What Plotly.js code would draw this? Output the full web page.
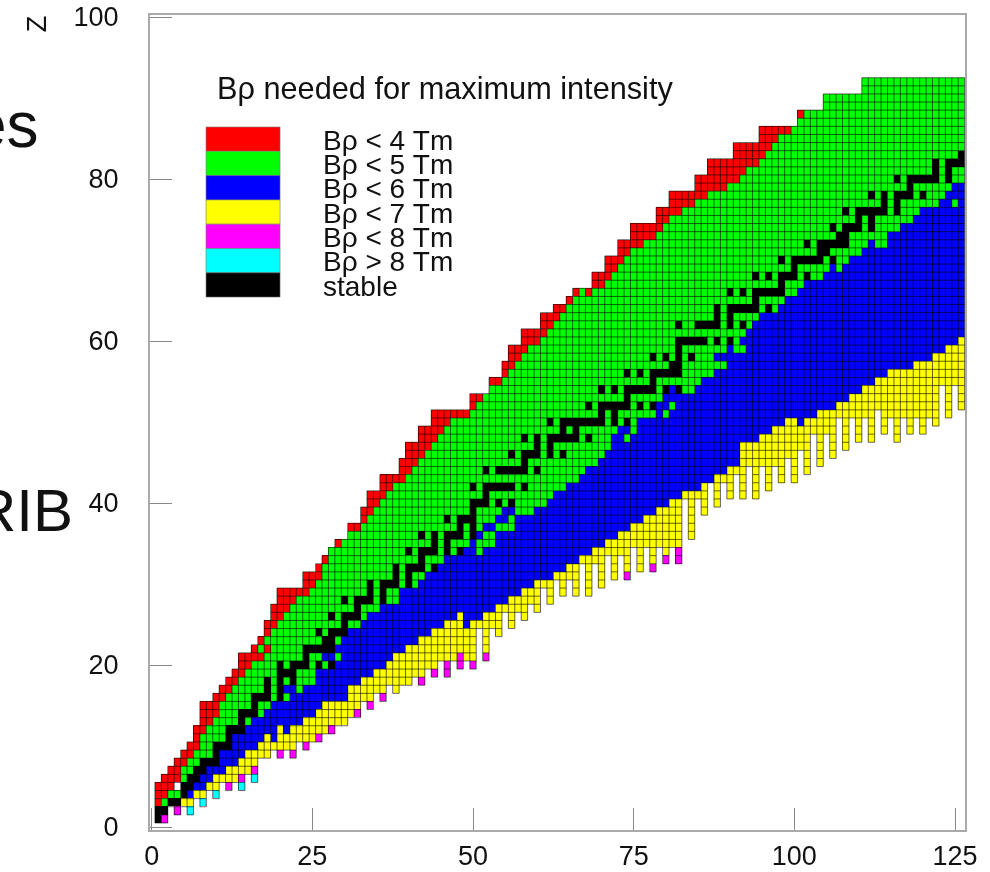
<!DOCTYPE html>
<html><head><meta charset="utf-8">
<script src="https://cdn.plot.ly/plotly-3.0.1.min.js"></script>
<style>html,body{margin:0;padding:0;background:#fff;overflow:hidden}#c{width:990px;height:872px;filter:blur(0.45px)}</style>
</head><body><div id="c"></div>
<script>
// Rows are proton numbers Z = 1..92; each value is a neutron number N.
const leftN = [1,1,1,1,1,2,3,4,5,6, 7,7,8,8,8,10,11,12,13,14, 14,16,17,18,18,19,19,20,20,24,
  24,26,27,28,29,31,31,33,33,34, 34,36,36,39,39,40,40,42,42,44, 44,50,50,53,53,55,55,56,56,58,
  58,61,61,63,65,66,69,69,71,71, 73,73,75,75,79,79,81,81,85,85, 87,87,91,91,95,95,101,101,105,105, 111,111];
const greenFrom = [1,1,2,3,4,5,5,6,7,8, 8,9,10,11,11,12,13,14,15,16, 18,17,18,19,20,21,22,23,25,26,
  27,27,28,28,30,31,33,34,35,36, 37,38,40,41,42,43,44,45,46,47, 50,51,52,53,55,56,57,58,59,61,
  62,63,64,65,66,67,71,72,73,74, 75,77,79,80,81,83,85,87,90,92, 93,95,96,97,98,100,101,102,105,105, 111,111];
const blueFrom = [127,127,127,6,7,8,9,11,11,13, 13,15,16,18,19,22,24,26,26,29, 30,29,30,31,33,34,36,39,39,42,
  43,45,46,52,54,54,57,57,60,62, 63,65,67,68,70,71,72,75,76,76, 81,82,80,85,86,88,90,88,93,92,
  93,94,95,98,99,101,102,105,108,109, 111,115,115,117,119,120,123,124,125,127,
  127,127,127,127,127,127,127,127,127,127, 127,127];
const yellowFrom = [1,1,5,7,9,10,12,14,15,17, 18,20,24,26,27,31,31,33,35,37, 38,40,42,44,46,48,54,56,58,60,
  63,65,67,69,71,73,75,77,79,81, 83,86,88,90,92,92,92,95,97,99, 104,107,109,111,113,115,119,122,124,126,
  127,127,127,127,127,127,127,127,127,127, 127,127,127,127,127,127,127,127,127,127,
  127,127,127,127,127,127,127,127,127,127, 127,127];
// Lowest Z of the yellow run in each column, for N = 5..126.
const toothBottom = [3,3,4,4,5,5,6,6,6,7,7,8,9,9,10,10,10,10,11,11,11,12,12,13,13,13,14,15,16,16,
  17,17,18,17,18,18,19,19,20,20,21,21,21,22,21,21,25,22,25,24,27,25,27,26,28,27,30,28,31,29,
  31,29,33,29,33,30,34,31,34,32,35,32,35,33,35,34,35,35,41,36,41,39,43,40,43,41,44,41,45,41,
  45,42,45,43,46,43,47,44,49,45,49,46,51,47,51,48,51,48,52,49,51,48,51,49,51,49,51,50,55,51,55,52];
const stableN = [[1],[1,2],[3,4],[5],[5,6],[6,7],[7,8],[8,9,10],[10],[10,11,12],
  [12],[12,13,14],[14],[14,15,16],[16],[16,17,18,20],[18,20],[18,20,22],[20,21,22],[20,22,23,24,26,28],
  [24],[24,25,26,27,28],[27,28],[26,28,29,30],[30],[28,30,31,32],[32],[30,32,33,34,36],[34,36],[34,36,37,38,40],
  [38,40],[38,40,41,42,44],[42],[40,42,43,44,46,48],[44,46],[42,44,46,47,48,50],[48,50],[46,48,49,50],[50],[50,51,52,54,56],
  [52],[50,52,53,54,55,56,58],[],[52,54,55,56,57,58,60],[58],[56,58,59,60,62,64],[60,62],[58,60,62,63,64,65,66,68],[64,66],[62,64,65,66,67,68,69,70,72,74],
  [70,72],[68,70,71,72,73,74,76,78],[74],[70,72,74,75,76,77,78,80,82],[78],[74,76,78,79,80,81,82],[81,82],[78,80,82,84],[82],[82,83,84,85,86,88,90],
  [],[82,85,86,87,88,90,92],[88,90],[88,90,91,92,93,94,96],[94],[90,92,94,95,96,97,98],[98],[94,96,98,99,100,102],[100],[98,100,101,102,103,104,106],
  [104,105],[102,104,105,106,107,108],[107,108],[106,108,109,110,112],[110,112],[108,110,111,112,113,114,116],[114,116],[112,114,116,117,118,120],[118],[116,118,119,120,121,122,124],
  [122,124],[122,124,125,126],[126]];
// Single cells as [Z, N]
const redCells = [[22,18],[66,68]];
const greenCells = [[48,74],[77,125]];
const blueCells = [[11,19],[12,21],[17,21],[17,22],[21,27],[21,28],[25,49],[26,49],[26,50],[26,51],[34,49],[34,50],[35,50],[36,51],
  [37,52],[37,53],[38,54],[38,55],[39,55],[39,56],[48,72],[48,73],[49,73],[49,74],[50,101],[51,79],[52,79],[52,80],[54,81],[59,90],[69,106],[72,112]];
const magentaCells = [[1,2],[2,4],[5,12],[6,14],[7,16],[9,20],[9,22],[10,24],[11,26],[12,28],[14,32],[15,34],[16,36],[18,42],
  [19,44],[19,46],[20,46],[20,48],[20,50],[21,48],[21,52],[31,74],[32,78],[33,80],[33,82],[34,82]];
const cyanCells = [[2,6],[3,8],[4,10],[5,14],[6,16]];
const holeCells = [[5,4]];

const legendLabels = ['Bρ < 4 Tm','Bρ < 5 Tm','Bρ < 6 Tm','Bρ < 7 Tm','Bρ < 8 Tm','Bρ > 8 Tm','stable'];
const legendColors = ['#ff0000','#00ff00','#0000ff','#ffff00','#ff00ff','#00ffff','#000000'];
const xTicks = [0,25,50,75,100,125];
const yTicks = [0,20,40,60,80,100];

const RED=1,GREEN=2,BLUE=3,YELLOW=4,MAGENTA=5,CYAN=6,BLACK=7,WHITE=8;
const zs=[],ns=[];
for(let i=0;i<=92;i++)zs.push(i);
for(let i=0;i<=126;i++)ns.push(i);
const grid=zs.map(()=>ns.map(()=>null));
for(let Z=1;Z<=92;Z++){
  for(let N=leftN[Z-1];N<=126;N++){
    let v;
    if(N>=yellowFrom[Z-1]){ v=(N>=5&&Z>=toothBottom[N-5])?YELLOW:null; }
    else if(N>=blueFrom[Z-1]) v=BLUE;
    else if(N>=greenFrom[Z-1]) v=GREEN;
    else v=RED;
    grid[Z][N]=v;
  }
}
const put=(list,v)=>list.forEach(c=>{grid[c[0]][c[1]]=v;});
put(redCells,RED);put(greenCells,GREEN);put(blueCells,BLUE);put(magentaCells,MAGENTA);put(cyanCells,CYAN);put(holeCells,WHITE);
stableN.forEach((l,i)=>l.forEach(N=>{grid[i+1][N]=BLACK;}));

// Cell outlines: thin line segments around every filled cell, from the grid.
const lx=[],ly=[];
const filled=(Z,N)=>Z>=0&&Z<=92&&N>=0&&N<=126&&grid[Z][N]!==null;
for(let Z=0;Z<=92;Z++)for(let N=0;N<=126;N++){
  if(!filled(Z,N))continue;
  lx.push(N-0.5,N+0.5,null);ly.push(Z+0.5,Z+0.5,null);
  lx.push(N+0.5,N+0.5,null);ly.push(Z-0.5,Z+0.5,null);
  if(!filled(Z-1,N)){lx.push(N-0.5,N+0.5,null);ly.push(Z-0.5,Z-0.5,null);}
  if(!filled(Z,N-1)){lx.push(N-0.5,N-0.5,null);ly.push(Z-0.5,Z+0.5,null);}
}

const palette=[...legendColors.slice(0,7),'#ffffff'];
const scale=[];
palette.forEach((c,i)=>{scale.push([i/8,c]);scale.push([(i+1)/8,c]);});

const L=150,R=964.7,T=14.7,B=829.7;
const px=x=>(x-L)/(R-L), py=y=>(B-y)/(B-T);
const X0=151.7,XS=6.424,Y0=826.7,YS=8.1;

const shapes=legendColors.map((c,i)=>({type:'rect',xref:'paper',yref:'paper',
  x0:px(206),x1:px(280),y0:py(126.7+24.3*(i+1)),y1:py(126.7+24.3*i),
  fillcolor:c,line:{color:'#777',width:0.6},layer:'above'}));
const font='Liberation Sans, Arial, sans-serif';
const ann=(text,x,y,size,anchor,extra)=>Object.assign({text,xref:'paper',yref:'paper',x:px(x),y:py(y),xanchor:anchor,yanchor:'middle',
  showarrow:false,font:{family:font,size,color:'#111'}},extra||{});
const annotations=[
  ann('Bρ needed for maximum intensity',215,88,30.7,'left'),
  ann('Z',37,23,27,'center',{textangle:-90}),
  ann('es',41,125,64,'right'),
  ann('RIB',75,510,60,'right')
];
legendLabels.forEach((t,i)=>annotations.push(ann(t,321,140+24.3*i,28,'left')));

const axisBase={showgrid:false,zeroline:false,showline:true,mirror:true,linecolor:'#aaaaaa',linewidth:2,
  ticks:'inside',ticklen:22,tickwidth:1,tickcolor:'#888888',tickfont:{family:font,size:27,color:'#111'}};
Plotly.newPlot('c',[
  {type:'heatmap',x:ns,y:zs,z:grid,zmin:0.5,zmax:8.5,colorscale:scale,showscale:false,hoverinfo:'skip'},
  {type:'scatter',mode:'lines',x:lx,y:ly,line:{color:'rgba(0,0,0,0.6)',width:1},hoverinfo:'skip',connectgaps:false}
],{
  width:990,height:872,autosize:false,showlegend:false,
  margin:{l:L,r:990-R,t:T,b:872-B,pad:0},
  paper_bgcolor:'#fff',plot_bgcolor:'#fff',
  xaxis:Object.assign({},axisBase,{range:[(L-X0)/XS,(R-X0)/XS],tickvals:xTicks,ticktext:xTicks.map(String),ticklabelstandoff:1}),
  yaxis:Object.assign({},axisBase,{range:[(Y0-B)/YS,(Y0-T)/YS],tickvals:yTicks,ticktext:yTicks.map(String),ticklabelstandoff:24}),
  shapes,annotations
},{displayModeBar:false,staticPlot:true});
</script></body></html>
